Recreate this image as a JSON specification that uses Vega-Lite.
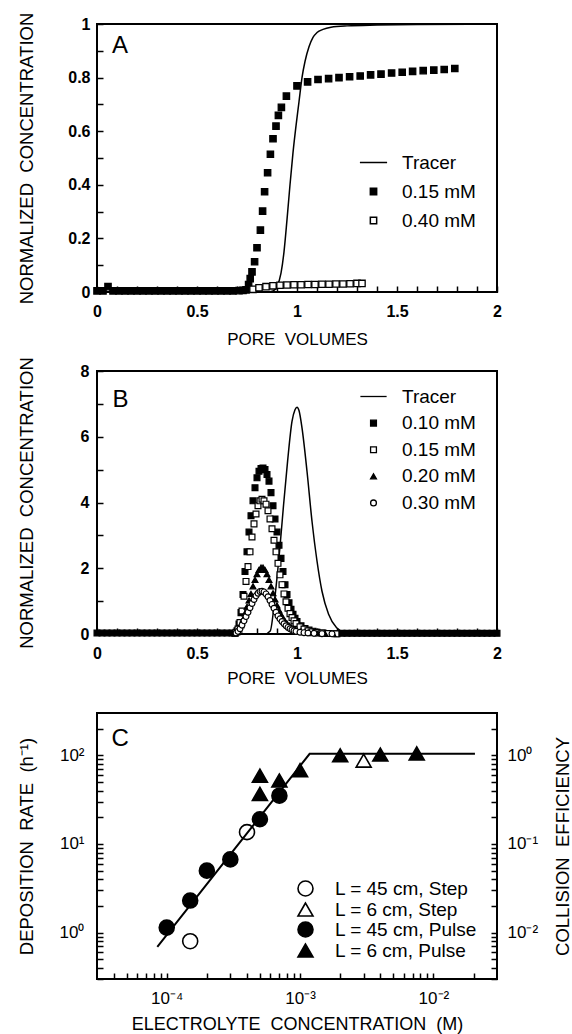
{
  "$schema": "https://vega.github.io/schema/vega-lite/v6.json",
  "background": "white",
  "padding": {"left": 15, "top": 11, "right": 0, "bottom": 0},
  "bounds": "flush",
  "spacing": 79,
  "resolve": {
    "scale": {"shape": "independent", "fill": "independent", "stroke": "independent"},
    "legend": {"shape": "independent", "fill": "independent", "stroke": "independent"}
  },
  "config": {
    "font": "Liberation Sans",
    "view": {"stroke": "black", "strokeWidth": 2},
    "axis": {
      "grid": false, "domain": false, "tickColor": "black", "tickSize": -6, "tickWidth": 1.5,
      "labelColor": "black", "labelFont": "Liberation Sans", "labelFontSize": 16, "labelFontWeight": "bold",
      "labelFlush": false, "labelOverlap": false,
      "titleColor": "black", "titleFont": "Liberation Sans", "titleFontWeight": "normal"
    },
    "legend": {"labelFont": "Liberation Sans", "labelColor": "black"}
  },
  "datasets": {
    "A_tracer": [
      {"pv": 0, "c": 0}, {"pv": 0.5, "c": 0}, {"pv": 0.85, "c": 0}, {"pv": 0.88, "c": 0.004},
      {"pv": 0.9, "c": 0.02}, {"pv": 0.92, "c": 0.07}, {"pv": 0.935, "c": 0.15}, {"pv": 0.95, "c": 0.27},
      {"pv": 0.965, "c": 0.4}, {"pv": 0.98, "c": 0.52}, {"pv": 0.995, "c": 0.62}, {"pv": 1.01, "c": 0.71},
      {"pv": 1.025, "c": 0.8}, {"pv": 1.04, "c": 0.86}, {"pv": 1.06, "c": 0.915}, {"pv": 1.08, "c": 0.95},
      {"pv": 1.1, "c": 0.968}, {"pv": 1.13, "c": 0.98}, {"pv": 1.17, "c": 0.988}, {"pv": 1.25, "c": 0.993},
      {"pv": 1.4, "c": 0.996}, {"pv": 1.6, "c": 0.998}, {"pv": 2.0, "c": 1.0}
    ],
    "A_pts": [
      {"pv": 0, "c": 0.004, "series": "0.15 mM"}, {"pv": 0.03, "c": 0.004, "series": "0.15 mM"},
      {"pv": 0.055, "c": 0.02, "series": "0.15 mM"}, {"pv": 0.08, "c": 0.004, "series": "0.15 mM"},
      {"pv": 0.11, "c": 0.004, "series": "0.15 mM"}, {"pv": 0.14, "c": 0.004, "series": "0.15 mM"},
      {"pv": 0.17, "c": 0.004, "series": "0.15 mM"}, {"pv": 0.2, "c": 0.004, "series": "0.15 mM"},
      {"pv": 0.23, "c": 0.004, "series": "0.15 mM"}, {"pv": 0.26, "c": 0.004, "series": "0.15 mM"},
      {"pv": 0.29, "c": 0.004, "series": "0.15 mM"}, {"pv": 0.32, "c": 0.004, "series": "0.15 mM"},
      {"pv": 0.35, "c": 0.004, "series": "0.15 mM"}, {"pv": 0.38, "c": 0.004, "series": "0.15 mM"},
      {"pv": 0.41, "c": 0.004, "series": "0.15 mM"}, {"pv": 0.44, "c": 0.004, "series": "0.15 mM"},
      {"pv": 0.47, "c": 0.004, "series": "0.15 mM"}, {"pv": 0.5, "c": 0.004, "series": "0.15 mM"},
      {"pv": 0.53, "c": 0.004, "series": "0.15 mM"}, {"pv": 0.56, "c": 0.004, "series": "0.15 mM"},
      {"pv": 0.59, "c": 0.004, "series": "0.15 mM"}, {"pv": 0.62, "c": 0.004, "series": "0.15 mM"},
      {"pv": 0.65, "c": 0.004, "series": "0.15 mM"}, {"pv": 0.68, "c": 0.004, "series": "0.15 mM"},
      {"pv": 0.71, "c": 0.005, "series": "0.15 mM"}, {"pv": 0.73, "c": 0.006, "series": "0.15 mM"},
      {"pv": 0.745, "c": 0.008, "series": "0.15 mM"}, {"pv": 0.758, "c": 0.028, "series": "0.15 mM"},
      {"pv": 0.766, "c": 0.05, "series": "0.15 mM"}, {"pv": 0.775, "c": 0.075, "series": "0.15 mM"},
      {"pv": 0.788, "c": 0.113, "series": "0.15 mM"}, {"pv": 0.8, "c": 0.165, "series": "0.15 mM"},
      {"pv": 0.817, "c": 0.231, "series": "0.15 mM"}, {"pv": 0.828, "c": 0.302, "series": "0.15 mM"},
      {"pv": 0.838, "c": 0.374, "series": "0.15 mM"}, {"pv": 0.853, "c": 0.445, "series": "0.15 mM"},
      {"pv": 0.867, "c": 0.514, "series": "0.15 mM"}, {"pv": 0.88, "c": 0.572, "series": "0.15 mM"},
      {"pv": 0.895, "c": 0.619, "series": "0.15 mM"}, {"pv": 0.907, "c": 0.659, "series": "0.15 mM"},
      {"pv": 0.922, "c": 0.689, "series": "0.15 mM"}, {"pv": 0.947, "c": 0.731, "series": "0.15 mM"},
      {"pv": 1.0, "c": 0.769, "series": "0.15 mM"}, {"pv": 1.053, "c": 0.784, "series": "0.15 mM"},
      {"pv": 1.105, "c": 0.793, "series": "0.15 mM"}, {"pv": 1.158, "c": 0.796, "series": "0.15 mM"},
      {"pv": 1.21, "c": 0.8, "series": "0.15 mM"}, {"pv": 1.263, "c": 0.803, "series": "0.15 mM"},
      {"pv": 1.316, "c": 0.806, "series": "0.15 mM"}, {"pv": 1.368, "c": 0.81, "series": "0.15 mM"},
      {"pv": 1.42, "c": 0.813, "series": "0.15 mM"}, {"pv": 1.473, "c": 0.817, "series": "0.15 mM"},
      {"pv": 1.526, "c": 0.82, "series": "0.15 mM"}, {"pv": 1.578, "c": 0.823, "series": "0.15 mM"},
      {"pv": 1.631, "c": 0.826, "series": "0.15 mM"}, {"pv": 1.684, "c": 0.828, "series": "0.15 mM"},
      {"pv": 1.736, "c": 0.83, "series": "0.15 mM"}, {"pv": 1.789, "c": 0.834, "series": "0.15 mM"},
      {"pv": 0.78, "c": 0.01, "series": "0.40 mM"}, {"pv": 0.81, "c": 0.016, "series": "0.40 mM"},
      {"pv": 0.845, "c": 0.02, "series": "0.40 mM"}, {"pv": 0.88, "c": 0.023, "series": "0.40 mM"},
      {"pv": 0.915, "c": 0.025, "series": "0.40 mM"}, {"pv": 0.95, "c": 0.026, "series": "0.40 mM"},
      {"pv": 0.985, "c": 0.027, "series": "0.40 mM"}, {"pv": 1.02, "c": 0.027, "series": "0.40 mM"},
      {"pv": 1.055, "c": 0.028, "series": "0.40 mM"}, {"pv": 1.09, "c": 0.028, "series": "0.40 mM"},
      {"pv": 1.125, "c": 0.029, "series": "0.40 mM"}, {"pv": 1.16, "c": 0.029, "series": "0.40 mM"},
      {"pv": 1.195, "c": 0.03, "series": "0.40 mM"}, {"pv": 1.23, "c": 0.03, "series": "0.40 mM"},
      {"pv": 1.265, "c": 0.031, "series": "0.40 mM"}, {"pv": 1.3, "c": 0.032, "series": "0.40 mM"},
      {"pv": 1.325, "c": 0.032, "series": "0.40 mM"}
    ],
    "B_tracer": [
      {"pv": 0, "c": 0}, {"pv": 0.5, "c": 0}, {"pv": 0.84, "c": 0}, {"pv": 0.866, "c": 0.09},
      {"pv": 0.891, "c": 1.2}, {"pv": 0.916, "c": 2.73}, {"pv": 0.933, "c": 3.94}, {"pv": 0.953, "c": 5.26},
      {"pv": 0.975, "c": 6.47}, {"pv": 0.99, "c": 6.82}, {"pv": 1.0, "c": 6.9}, {"pv": 1.01, "c": 6.8},
      {"pv": 1.025, "c": 6.27}, {"pv": 1.05, "c": 4.95}, {"pv": 1.075, "c": 3.43}, {"pv": 1.1, "c": 2.22},
      {"pv": 1.125, "c": 1.3}, {"pv": 1.158, "c": 0.6}, {"pv": 1.198, "c": 0.19}, {"pv": 1.24, "c": 0.05},
      {"pv": 1.3, "c": 0.01}, {"pv": 1.4, "c": 0}, {"pv": 2.0, "c": 0}
    ],
    "B_pts": [
      {"pv": 0, "c": 0.03, "series": "0.10 mM"}, {"pv": 0.025, "c": 0.03, "series": "0.10 mM"}, {"pv": 0.05, "c": 0.03, "series": "0.10 mM"}, {"pv": 0.075, "c": 0.03, "series": "0.10 mM"},
      {"pv": 0.1, "c": 0.03, "series": "0.10 mM"}, {"pv": 0.125, "c": 0.03, "series": "0.10 mM"}, {"pv": 0.15, "c": 0.03, "series": "0.10 mM"}, {"pv": 0.175, "c": 0.03, "series": "0.10 mM"},
      {"pv": 0.2, "c": 0.03, "series": "0.10 mM"}, {"pv": 0.225, "c": 0.03, "series": "0.10 mM"}, {"pv": 0.25, "c": 0.03, "series": "0.10 mM"}, {"pv": 0.275, "c": 0.03, "series": "0.10 mM"},
      {"pv": 0.3, "c": 0.03, "series": "0.10 mM"}, {"pv": 0.325, "c": 0.03, "series": "0.10 mM"}, {"pv": 0.35, "c": 0.03, "series": "0.10 mM"}, {"pv": 0.375, "c": 0.03, "series": "0.10 mM"},
      {"pv": 0.4, "c": 0.03, "series": "0.10 mM"}, {"pv": 0.425, "c": 0.03, "series": "0.10 mM"}, {"pv": 0.45, "c": 0.03, "series": "0.10 mM"}, {"pv": 0.475, "c": 0.03, "series": "0.10 mM"},
      {"pv": 0.5, "c": 0.03, "series": "0.10 mM"}, {"pv": 0.525, "c": 0.03, "series": "0.10 mM"}, {"pv": 0.55, "c": 0.03, "series": "0.10 mM"}, {"pv": 0.575, "c": 0.03, "series": "0.10 mM"},
      {"pv": 0.6, "c": 0.03, "series": "0.10 mM"}, {"pv": 0.625, "c": 0.03, "series": "0.10 mM"}, {"pv": 0.65, "c": 0.03, "series": "0.10 mM"}, {"pv": 0.675, "c": 0.03, "series": "0.10 mM"},
      {"pv": 0.69, "c": 0.02, "series": "0.10 mM"}, {"pv": 0.7, "c": 0.1, "series": "0.10 mM"}, {"pv": 0.71, "c": 0.3, "series": "0.10 mM"}, {"pv": 0.72, "c": 0.65, "series": "0.10 mM"},
      {"pv": 0.73, "c": 1.2, "series": "0.10 mM"}, {"pv": 0.74, "c": 1.9, "series": "0.10 mM"}, {"pv": 0.75, "c": 2.5, "series": "0.10 mM"}, {"pv": 0.76, "c": 3.1, "series": "0.10 mM"},
      {"pv": 0.77, "c": 3.6, "series": "0.10 mM"}, {"pv": 0.78, "c": 4.05, "series": "0.10 mM"}, {"pv": 0.79, "c": 4.45, "series": "0.10 mM"}, {"pv": 0.8, "c": 4.75, "series": "0.10 mM"},
      {"pv": 0.81, "c": 4.95, "series": "0.10 mM"}, {"pv": 0.82, "c": 5.03, "series": "0.10 mM"}, {"pv": 0.83, "c": 5.05, "series": "0.10 mM"}, {"pv": 0.84, "c": 5.0, "series": "0.10 mM"},
      {"pv": 0.85, "c": 4.85, "series": "0.10 mM"}, {"pv": 0.86, "c": 4.65, "series": "0.10 mM"}, {"pv": 0.87, "c": 4.3, "series": "0.10 mM"}, {"pv": 0.88, "c": 3.9, "series": "0.10 mM"},
      {"pv": 0.89, "c": 3.5, "series": "0.10 mM"}, {"pv": 0.9, "c": 3.1, "series": "0.10 mM"}, {"pv": 0.91, "c": 2.7, "series": "0.10 mM"}, {"pv": 0.92, "c": 2.3, "series": "0.10 mM"},
      {"pv": 0.93, "c": 1.9, "series": "0.10 mM"}, {"pv": 0.94, "c": 1.5, "series": "0.10 mM"}, {"pv": 0.95, "c": 1.2, "series": "0.10 mM"}, {"pv": 0.96, "c": 0.95, "series": "0.10 mM"},
      {"pv": 0.97, "c": 0.75, "series": "0.10 mM"}, {"pv": 0.98, "c": 0.6, "series": "0.10 mM"}, {"pv": 0.99, "c": 0.48, "series": "0.10 mM"}, {"pv": 1.0, "c": 0.38, "series": "0.10 mM"},
      {"pv": 1.02, "c": 0.25, "series": "0.10 mM"}, {"pv": 1.04, "c": 0.17, "series": "0.10 mM"}, {"pv": 1.06, "c": 0.12, "series": "0.10 mM"}, {"pv": 1.08, "c": 0.08, "series": "0.10 mM"},
      {"pv": 1.1, "c": 0.05, "series": "0.10 mM"}, {"pv": 1.13, "c": 0.03, "series": "0.10 mM"}, {"pv": 1.16, "c": 0.015, "series": "0.10 mM"}, {"pv": 1.2, "c": 0.005, "series": "0.10 mM"},
      {"pv": 1.225, "c": 0.02, "series": "0.10 mM"}, {"pv": 1.25, "c": 0.02, "series": "0.10 mM"}, {"pv": 1.275, "c": 0.02, "series": "0.10 mM"}, {"pv": 1.3, "c": 0.02, "series": "0.10 mM"},
      {"pv": 1.325, "c": 0.02, "series": "0.10 mM"}, {"pv": 1.35, "c": 0.02, "series": "0.10 mM"}, {"pv": 1.375, "c": 0.02, "series": "0.10 mM"}, {"pv": 1.4, "c": 0.02, "series": "0.10 mM"},
      {"pv": 1.425, "c": 0.02, "series": "0.10 mM"}, {"pv": 1.45, "c": 0.02, "series": "0.10 mM"}, {"pv": 1.475, "c": 0.02, "series": "0.10 mM"}, {"pv": 1.5, "c": 0.02, "series": "0.10 mM"},
      {"pv": 1.525, "c": 0.02, "series": "0.10 mM"}, {"pv": 1.55, "c": 0.02, "series": "0.10 mM"}, {"pv": 1.575, "c": 0.02, "series": "0.10 mM"}, {"pv": 1.6, "c": 0.02, "series": "0.10 mM"},
      {"pv": 1.625, "c": 0.02, "series": "0.10 mM"}, {"pv": 1.65, "c": 0.02, "series": "0.10 mM"}, {"pv": 1.675, "c": 0.02, "series": "0.10 mM"}, {"pv": 1.7, "c": 0.02, "series": "0.10 mM"},
      {"pv": 1.725, "c": 0.02, "series": "0.10 mM"}, {"pv": 1.75, "c": 0.02, "series": "0.10 mM"}, {"pv": 1.775, "c": 0.02, "series": "0.10 mM"}, {"pv": 1.8, "c": 0.02, "series": "0.10 mM"},
      {"pv": 1.825, "c": 0.02, "series": "0.10 mM"}, {"pv": 1.85, "c": 0.02, "series": "0.10 mM"}, {"pv": 1.875, "c": 0.02, "series": "0.10 mM"}, {"pv": 1.9, "c": 0.02, "series": "0.10 mM"},
      {"pv": 1.925, "c": 0.02, "series": "0.10 mM"}, {"pv": 1.95, "c": 0.02, "series": "0.10 mM"}, {"pv": 1.975, "c": 0.02, "series": "0.10 mM"}, {"pv": 2.0, "c": 0.02, "series": "0.10 mM"},
      {"pv": 0.695, "c": 0.05, "series": "0.15 mM"}, {"pv": 0.705, "c": 0.15, "series": "0.15 mM"}, {"pv": 0.715, "c": 0.35, "series": "0.15 mM"}, {"pv": 0.725, "c": 0.7, "series": "0.15 mM"},
      {"pv": 0.735, "c": 1.15, "series": "0.15 mM"}, {"pv": 0.745, "c": 1.6, "series": "0.15 mM"}, {"pv": 0.755, "c": 2.05, "series": "0.15 mM"}, {"pv": 0.765, "c": 2.5, "series": "0.15 mM"},
      {"pv": 0.775, "c": 2.95, "series": "0.15 mM"}, {"pv": 0.785, "c": 3.35, "series": "0.15 mM"}, {"pv": 0.795, "c": 3.65, "series": "0.15 mM"}, {"pv": 0.805, "c": 3.9, "series": "0.15 mM"},
      {"pv": 0.815, "c": 4.05, "series": "0.15 mM"}, {"pv": 0.825, "c": 4.1, "series": "0.15 mM"}, {"pv": 0.835, "c": 4.05, "series": "0.15 mM"}, {"pv": 0.845, "c": 3.95, "series": "0.15 mM"},
      {"pv": 0.855, "c": 3.75, "series": "0.15 mM"}, {"pv": 0.865, "c": 3.5, "series": "0.15 mM"}, {"pv": 0.875, "c": 3.2, "series": "0.15 mM"}, {"pv": 0.885, "c": 2.85, "series": "0.15 mM"},
      {"pv": 0.895, "c": 2.5, "series": "0.15 mM"}, {"pv": 0.905, "c": 2.15, "series": "0.15 mM"}, {"pv": 0.915, "c": 1.8, "series": "0.15 mM"}, {"pv": 0.925, "c": 1.5, "series": "0.15 mM"},
      {"pv": 0.935, "c": 1.22, "series": "0.15 mM"}, {"pv": 0.945, "c": 0.98, "series": "0.15 mM"}, {"pv": 0.955, "c": 0.78, "series": "0.15 mM"}, {"pv": 0.965, "c": 0.62, "series": "0.15 mM"},
      {"pv": 0.975, "c": 0.5, "series": "0.15 mM"}, {"pv": 0.985, "c": 0.4, "series": "0.15 mM"}, {"pv": 0.995, "c": 0.32, "series": "0.15 mM"}, {"pv": 1.015, "c": 0.22, "series": "0.15 mM"},
      {"pv": 1.035, "c": 0.15, "series": "0.15 mM"}, {"pv": 1.055, "c": 0.1, "series": "0.15 mM"}, {"pv": 1.075, "c": 0.07, "series": "0.15 mM"}, {"pv": 1.095, "c": 0.05, "series": "0.15 mM"},
      {"pv": 1.125, "c": 0.03, "series": "0.15 mM"}, {"pv": 1.155, "c": 0.015, "series": "0.15 mM"}, {"pv": 1.195, "c": 0.005, "series": "0.15 mM"},
      {"pv": 0.69, "c": 0.02, "series": "0.20 mM"}, {"pv": 0.7, "c": 0.06, "series": "0.20 mM"}, {"pv": 0.71, "c": 0.14, "series": "0.20 mM"}, {"pv": 0.72, "c": 0.27, "series": "0.20 mM"},
      {"pv": 0.73, "c": 0.44, "series": "0.20 mM"}, {"pv": 0.74, "c": 0.63, "series": "0.20 mM"}, {"pv": 0.75, "c": 0.83, "series": "0.20 mM"}, {"pv": 0.76, "c": 1.02, "series": "0.20 mM"},
      {"pv": 0.77, "c": 1.22, "series": "0.20 mM"}, {"pv": 0.78, "c": 1.45, "series": "0.20 mM"}, {"pv": 0.79, "c": 1.65, "series": "0.20 mM"}, {"pv": 0.8, "c": 1.82, "series": "0.20 mM"},
      {"pv": 0.81, "c": 1.95, "series": "0.20 mM"}, {"pv": 0.82, "c": 2.02, "series": "0.20 mM"}, {"pv": 0.83, "c": 2.02, "series": "0.20 mM"}, {"pv": 0.84, "c": 1.95, "series": "0.20 mM"},
      {"pv": 0.85, "c": 1.82, "series": "0.20 mM"}, {"pv": 0.86, "c": 1.65, "series": "0.20 mM"}, {"pv": 0.87, "c": 1.45, "series": "0.20 mM"}, {"pv": 0.88, "c": 1.24, "series": "0.20 mM"},
      {"pv": 0.89, "c": 1.05, "series": "0.20 mM"}, {"pv": 0.9, "c": 0.87, "series": "0.20 mM"}, {"pv": 0.91, "c": 0.72, "series": "0.20 mM"}, {"pv": 0.92, "c": 0.59, "series": "0.20 mM"},
      {"pv": 0.93, "c": 0.48, "series": "0.20 mM"}, {"pv": 0.94, "c": 0.39, "series": "0.20 mM"}, {"pv": 0.95, "c": 0.32, "series": "0.20 mM"}, {"pv": 0.96, "c": 0.26, "series": "0.20 mM"},
      {"pv": 0.97, "c": 0.21, "series": "0.20 mM"}, {"pv": 0.98, "c": 0.17, "series": "0.20 mM"}, {"pv": 0.99, "c": 0.14, "series": "0.20 mM"}, {"pv": 1.0, "c": 0.11, "series": "0.20 mM"},
      {"pv": 1.02, "c": 0.08, "series": "0.20 mM"}, {"pv": 1.04, "c": 0.055, "series": "0.20 mM"}, {"pv": 1.06, "c": 0.04, "series": "0.20 mM"}, {"pv": 1.08, "c": 0.03, "series": "0.20 mM"},
      {"pv": 1.1, "c": 0.02, "series": "0.20 mM"}, {"pv": 1.14, "c": 0.01, "series": "0.20 mM"}, {"pv": 1.18, "c": 0.005, "series": "0.20 mM"},
      {"pv": 0.695, "c": 0.03, "series": "0.30 mM"}, {"pv": 0.705, "c": 0.08, "series": "0.30 mM"}, {"pv": 0.715, "c": 0.16, "series": "0.30 mM"}, {"pv": 0.725, "c": 0.27, "series": "0.30 mM"},
      {"pv": 0.735, "c": 0.4, "series": "0.30 mM"}, {"pv": 0.745, "c": 0.53, "series": "0.30 mM"}, {"pv": 0.755, "c": 0.66, "series": "0.30 mM"}, {"pv": 0.765, "c": 0.8, "series": "0.30 mM"},
      {"pv": 0.775, "c": 0.93, "series": "0.30 mM"}, {"pv": 0.785, "c": 1.05, "series": "0.30 mM"}, {"pv": 0.795, "c": 1.16, "series": "0.30 mM"}, {"pv": 0.805, "c": 1.24, "series": "0.30 mM"},
      {"pv": 0.815, "c": 1.29, "series": "0.30 mM"}, {"pv": 0.825, "c": 1.3, "series": "0.30 mM"}, {"pv": 0.835, "c": 1.28, "series": "0.30 mM"}, {"pv": 0.845, "c": 1.22, "series": "0.30 mM"},
      {"pv": 0.855, "c": 1.13, "series": "0.30 mM"}, {"pv": 0.865, "c": 1.02, "series": "0.30 mM"}, {"pv": 0.875, "c": 0.9, "series": "0.30 mM"}, {"pv": 0.885, "c": 0.78, "series": "0.30 mM"},
      {"pv": 0.895, "c": 0.66, "series": "0.30 mM"}, {"pv": 0.905, "c": 0.55, "series": "0.30 mM"}, {"pv": 0.915, "c": 0.46, "series": "0.30 mM"}, {"pv": 0.925, "c": 0.38, "series": "0.30 mM"},
      {"pv": 0.935, "c": 0.31, "series": "0.30 mM"}, {"pv": 0.945, "c": 0.25, "series": "0.30 mM"}, {"pv": 0.955, "c": 0.2, "series": "0.30 mM"}, {"pv": 0.965, "c": 0.16, "series": "0.30 mM"},
      {"pv": 0.975, "c": 0.13, "series": "0.30 mM"}, {"pv": 0.985, "c": 0.1, "series": "0.30 mM"}, {"pv": 0.995, "c": 0.08, "series": "0.30 mM"}, {"pv": 1.015, "c": 0.055, "series": "0.30 mM"},
      {"pv": 1.035, "c": 0.04, "series": "0.30 mM"}, {"pv": 1.055, "c": 0.03, "series": "0.30 mM"}, {"pv": 1.085, "c": 0.02, "series": "0.30 mM"}, {"pv": 1.125, "c": 0.01, "series": "0.30 mM"},
      {"pv": 1.175, "c": 0.005, "series": "0.30 mM"}
    ],
    "C_line": [
      {"conc": 0.000085, "rate": 0.69}, {"conc": 0.00118, "rate": 104}, {"conc": 0.0205, "rate": 104}
    ],
    "C_pts": [
      {"conc": 0.00015, "rate": 0.8, "type": "L = 45 cm, Step"},
      {"conc": 0.0004, "rate": 13.6, "type": "L = 45 cm, Step"},
      {"conc": 0.003, "rate": 87, "type": "L = 6 cm, Step"},
      {"conc": 0.0001, "rate": 1.14, "type": "L = 45 cm, Pulse"},
      {"conc": 0.00015, "rate": 2.3, "type": "L = 45 cm, Pulse"},
      {"conc": 0.0002, "rate": 5.0, "type": "L = 45 cm, Pulse"},
      {"conc": 0.0003, "rate": 6.7, "type": "L = 45 cm, Pulse"},
      {"conc": 0.0005, "rate": 19, "type": "L = 45 cm, Pulse"},
      {"conc": 0.0007, "rate": 35, "type": "L = 45 cm, Pulse"},
      {"conc": 0.0005, "rate": 59, "type": "L = 6 cm, Pulse"},
      {"conc": 0.0005, "rate": 36.7, "type": "L = 6 cm, Pulse"},
      {"conc": 0.0007, "rate": 52, "type": "L = 6 cm, Pulse"},
      {"conc": 0.001, "rate": 68, "type": "L = 6 cm, Pulse"},
      {"conc": 0.002, "rate": 100, "type": "L = 6 cm, Pulse"},
      {"conc": 0.004, "rate": 102, "type": "L = 6 cm, Pulse"},
      {"conc": 0.0075, "rate": 105, "type": "L = 6 cm, Pulse"}
    ]
  },
  "vconcat": [
    {
      "width": 400, "height": 268,
      "layer": [
        {
          "data": {"name": "A_tracer"},
          "mark": {"type": "line", "color": "black", "strokeWidth": 1.5, "interpolate": "monotone"},
          "encoding": {
            "x": {"field": "pv", "type": "quantitative", "scale": {"domain": [0, 2], "nice": false, "zero": false},
              "axis": {"title": "PORE\u00a0 VOLUMES", "titleFontSize": 17, "titleY": 47, "titleBaseline": "middle", "tickCount": 100,
                "values": [0,0.1,0.2,0.3,0.4,0.5,0.6,0.7,0.8,0.9,1,1.1,1.2,1.3,1.4,1.5,1.6,1.7,1.8,1.9,2],
                "labelExpr": "datum.value % 0.5 == 0 ? format(datum.value, '~g') : ''", "labelPadding": 17}},
            "y": {"field": "c", "type": "quantitative", "scale": {"domain": [0, 1], "nice": false},
              "axis": {"title": "NORMALIZED\u00a0 CONCENTRATION", "titleFontSize": 18.5, "titleX": -71, "titleBaseline": "middle", "tickCount": 100,
                "values": [0,0.1,0.2,0.3,0.4,0.5,0.6,0.7,0.8,0.9,1],
                "labelExpr": "round(datum.value*10) % 2 == 0 ? format(datum.value, '~g') : ''", "labelPadding": 13}}
          }
        },
        {
          "data": {"name": "A_pts"},
          "mark": {"type": "point", "filled": true, "strokeWidth": 1.3, "opacity": 1, "size": 40},
          "encoding": {
            "x": {"field": "pv", "type": "quantitative"},
            "y": {"field": "c", "type": "quantitative"},
            "shape": {"field": "series", "type": "nominal",
              "scale": {"domain": ["Tracer", "0.15 mM", "0.40 mM"], "range": ["M-4.3,0L4.3,0", "square", "square"]},
              "legend": {"orient": "none", "legendX": 267, "legendY": 129, "title": null, "labelFontSize": 19, "labelOffset": 19, "rowPadding": 9, "symbolSize": 40, "symbolStrokeWidth": 1.5}},
            "fill": {"field": "series", "type": "nominal",
              "scale": {"domain": ["Tracer", "0.15 mM", "0.40 mM"], "range": ["black", "black", "white"]},
              "legend": {"orient": "none", "legendX": 267, "legendY": 129, "title": null, "labelFontSize": 19, "labelOffset": 19, "rowPadding": 9, "symbolSize": 40, "symbolStrokeWidth": 1.5}},
            "stroke": {"field": "series", "type": "nominal",
              "scale": {"domain": ["Tracer", "0.15 mM", "0.40 mM"], "range": ["black", "black", "black"]},
              "legend": {"orient": "none", "legendX": 267, "legendY": 129, "title": null, "labelFontSize": 19, "labelOffset": 19, "rowPadding": 9, "symbolSize": 40, "symbolStrokeWidth": 1.5}}
          }
        },
        {
          "data": {"values": [{"label": "A"}]},
          "mark": {"type": "text", "fontSize": 24, "align": "center", "baseline": "middle", "font": "Liberation Sans", "color": "black"},
          "encoding": {"x": {"datum": 0.115, "type": "quantitative"}, "y": {"datum": 0.918, "type": "quantitative"}, "text": {"field": "label"}}
        }
      ]
    },
    {
      "width": 400, "height": 263,
      "layer": [
        {
          "data": {"name": "B_tracer"},
          "mark": {"type": "line", "color": "black", "strokeWidth": 1.5, "interpolate": "monotone"},
          "encoding": {
            "x": {"field": "pv", "type": "quantitative", "scale": {"domain": [0, 2], "nice": false, "zero": false},
              "axis": {"title": "PORE\u00a0 VOLUMES", "titleFontSize": 17, "titleY": 44, "titleBaseline": "middle", "tickCount": 100,
                "values": [0,0.1,0.2,0.3,0.4,0.5,0.6,0.7,0.8,0.9,1,1.1,1.2,1.3,1.4,1.5,1.6,1.7,1.8,1.9,2],
                "labelExpr": "datum.value % 0.5 == 0 ? format(datum.value, '~g') : ''", "labelPadding": 17}},
            "y": {"field": "c", "type": "quantitative", "scale": {"domain": [0, 8], "nice": false},
              "axis": {"title": "NORMALIZED\u00a0 CONCENTRATION", "titleFontSize": 18.5, "titleX": -71, "titleBaseline": "middle", "tickCount": 100,
                "values": [0,1,2,3,4,5,6,7,8],
                "labelExpr": "datum.value % 2 == 0 ? format(datum.value, '~g') : ''", "labelPadding": 14}}
          }
        },
        {
          "data": {"name": "B_pts"},
          "mark": {"type": "point", "filled": true, "strokeWidth": 1.2, "opacity": 1, "size": 34},
          "encoding": {
            "x": {"field": "pv", "type": "quantitative"},
            "y": {"field": "c", "type": "quantitative"},
            "shape": {"field": "series", "type": "nominal",
              "scale": {"domain": ["Tracer", "0.10 mM", "0.15 mM", "0.20 mM", "0.30 mM"], "range": ["M-4.5,0L4.5,0", "square", "square", "triangle-up", "circle"]},
              "legend": {"orient": "none", "legendX": 267, "legendY": 16, "title": null, "labelFontSize": 19, "labelOffset": 19, "rowPadding": 6.6, "symbolSize": 34, "symbolStrokeWidth": 1.3}},
            "fill": {"field": "series", "type": "nominal",
              "scale": {"domain": ["Tracer", "0.10 mM", "0.15 mM", "0.20 mM", "0.30 mM"], "range": ["black", "black", "white", "black", "white"]},
              "legend": {"orient": "none", "legendX": 267, "legendY": 16, "title": null, "labelFontSize": 19, "labelOffset": 19, "rowPadding": 6.6, "symbolSize": 34, "symbolStrokeWidth": 1.3}},
            "stroke": {"field": "series", "type": "nominal",
              "scale": {"domain": ["Tracer", "0.10 mM", "0.15 mM", "0.20 mM", "0.30 mM"], "range": ["black", "black", "black", "black", "black"]},
              "legend": {"orient": "none", "legendX": 267, "legendY": 16, "title": null, "labelFontSize": 19, "labelOffset": 19, "rowPadding": 6.6, "symbolSize": 34, "symbolStrokeWidth": 1.3}}
          }
        },
        {
          "data": {"values": [{"label": "B"}]},
          "mark": {"type": "text", "fontSize": 24, "align": "center", "baseline": "middle", "font": "Liberation Sans", "color": "black"},
          "encoding": {"x": {"datum": 0.117, "type": "quantitative"}, "y": {"datum": 7.13, "type": "quantitative"}, "text": {"field": "label"}}
        }
      ]
    },
    {
      "width": 400, "height": 266,
      "resolve": {"scale": {"y": "independent"}},
      "layer": [
        {
          "data": {"name": "C_line"},
          "mark": {"type": "line", "color": "black", "strokeWidth": 2},
          "encoding": {
            "x": {"field": "conc", "type": "quantitative", "scale": {"type": "log", "domain": [0.00003, 0.03], "nice": false},
              "axis": {"title": "ELECTROLYTE\u00a0 CONCENTRATION\u00a0 (M)", "titleFontSize": 18, "titleY": 45, "titleBaseline": "middle", "tickCount": 100,
                "values": [0.00004,0.00005,0.00006,0.00007,0.00008,0.00009,0.0001,0.0002,0.0003,0.0004,0.0005,0.0006,0.0007,0.0008,0.0009,0.001,0.002,0.003,0.004,0.005,0.006,0.007,0.008,0.009,0.01,0.02],
                "labelExpr": "datum.value == 0.0001 ? '10⁻⁴' : datum.value == 0.001 ? '10⁻³' : datum.value == 0.01 ? '10⁻²' : ''",
                "labelFontSize": 17, "labelFontWeight": "normal", "labelPadding": 17}},
            "y": {"field": "rate", "type": "quantitative", "scale": {"type": "log", "domain": [0.3, 300], "nice": false},
              "axis": {"title": "DEPOSITION\u00a0 RATE\u00a0 (h⁻¹)", "titleFontSize": 18.5, "titleX": -71, "titleBaseline": "middle", "tickCount": 100,
                "values": [0.3,0.4,0.5,0.6,0.7,0.8,0.9,1,2,3,4,5,6,7,8,9,10,20,30,40,50,60,70,80,90,100,200],
                "labelExpr": "datum.value == 100 ? '10²' : datum.value == 10 ? '10¹' : datum.value == 1 ? '10⁰' : ''",
                "labelFontSize": 17, "labelFontWeight": "normal", "labelPadding": 19}}
          }
        },
        {
          "data": {"name": "C_pts"},
          "mark": {"type": "point", "filled": true, "strokeWidth": 1.6, "opacity": 1, "size": 225},
          "encoding": {
            "x": {"field": "conc", "type": "quantitative", "scale": {"type": "log", "domain": [0.00003, 0.03], "nice": false}},
            "y": {"field": "rate", "type": "quantitative", "scale": {"type": "log", "domain": [0.3, 300], "nice": false}, "axis": null},
            "shape": {"field": "type", "type": "nominal",
              "scale": {"domain": ["L = 45 cm, Step", "L = 6 cm, Step", "L = 45 cm, Pulse", "L = 6 cm, Pulse"], "range": ["circle", "triangle-up", "circle", "triangle-up"]},
              "legend": {"orient": "none", "legendX": 199, "legendY": 166, "title": null, "labelFontSize": 19, "labelOffset": 20, "rowPadding": -4, "symbolSize": 225, "symbolStrokeWidth": 1.6}},
            "fill": {"field": "type", "type": "nominal",
              "scale": {"domain": ["L = 45 cm, Step", "L = 6 cm, Step", "L = 45 cm, Pulse", "L = 6 cm, Pulse"], "range": ["transparent", "transparent", "black", "black"]},
              "legend": {"orient": "none", "legendX": 199, "legendY": 166, "title": null, "labelFontSize": 19, "labelOffset": 20, "rowPadding": -4, "symbolSize": 225, "symbolStrokeWidth": 1.6}},
            "stroke": {"field": "type", "type": "nominal",
              "scale": {"domain": ["L = 45 cm, Step", "L = 6 cm, Step", "L = 45 cm, Pulse", "L = 6 cm, Pulse"], "range": ["black", "black", "black", "black"]},
              "legend": {"orient": "none", "legendX": 199, "legendY": 166, "title": null, "labelFontSize": 19, "labelOffset": 20, "rowPadding": -4, "symbolSize": 225, "symbolStrokeWidth": 1.6}}
          }
        },
        {
          "data": {"values": [{"label": "C"}]},
          "mark": {"type": "text", "fontSize": 24, "align": "center", "baseline": "middle", "font": "Liberation Sans", "color": "black"},
          "encoding": {
            "x": {"datum": 0.0000448, "type": "quantitative", "scale": {"type": "log", "domain": [0.00003, 0.03], "nice": false}},
            "y": {"datum": 151, "type": "quantitative", "scale": {"type": "log", "domain": [0.3, 300], "nice": false},
              "axis": {"orient": "right", "title": "COLLISION\u00a0 EFFICIENCY", "titleFontSize": 18.5, "titleAngle": 270, "titleX": 65, "titleBaseline": "middle", "tickCount": 100,
                "values": [0.3,0.4,0.5,0.6,0.7,0.8,0.9,1,2,3,4,5,6,7,8,9,10,20,30,40,50,60,70,80,90,100,200],
                "labelExpr": "datum.value == 100 ? '10⁰' : datum.value == 10 ? '10⁻¹' : datum.value == 1 ? '10⁻²' : ''",
                "labelFontSize": 17, "labelFontWeight": "normal", "labelPadding": 16}},
            "text": {"field": "label"}
          }
        }
      ]
    }
  ]
}
